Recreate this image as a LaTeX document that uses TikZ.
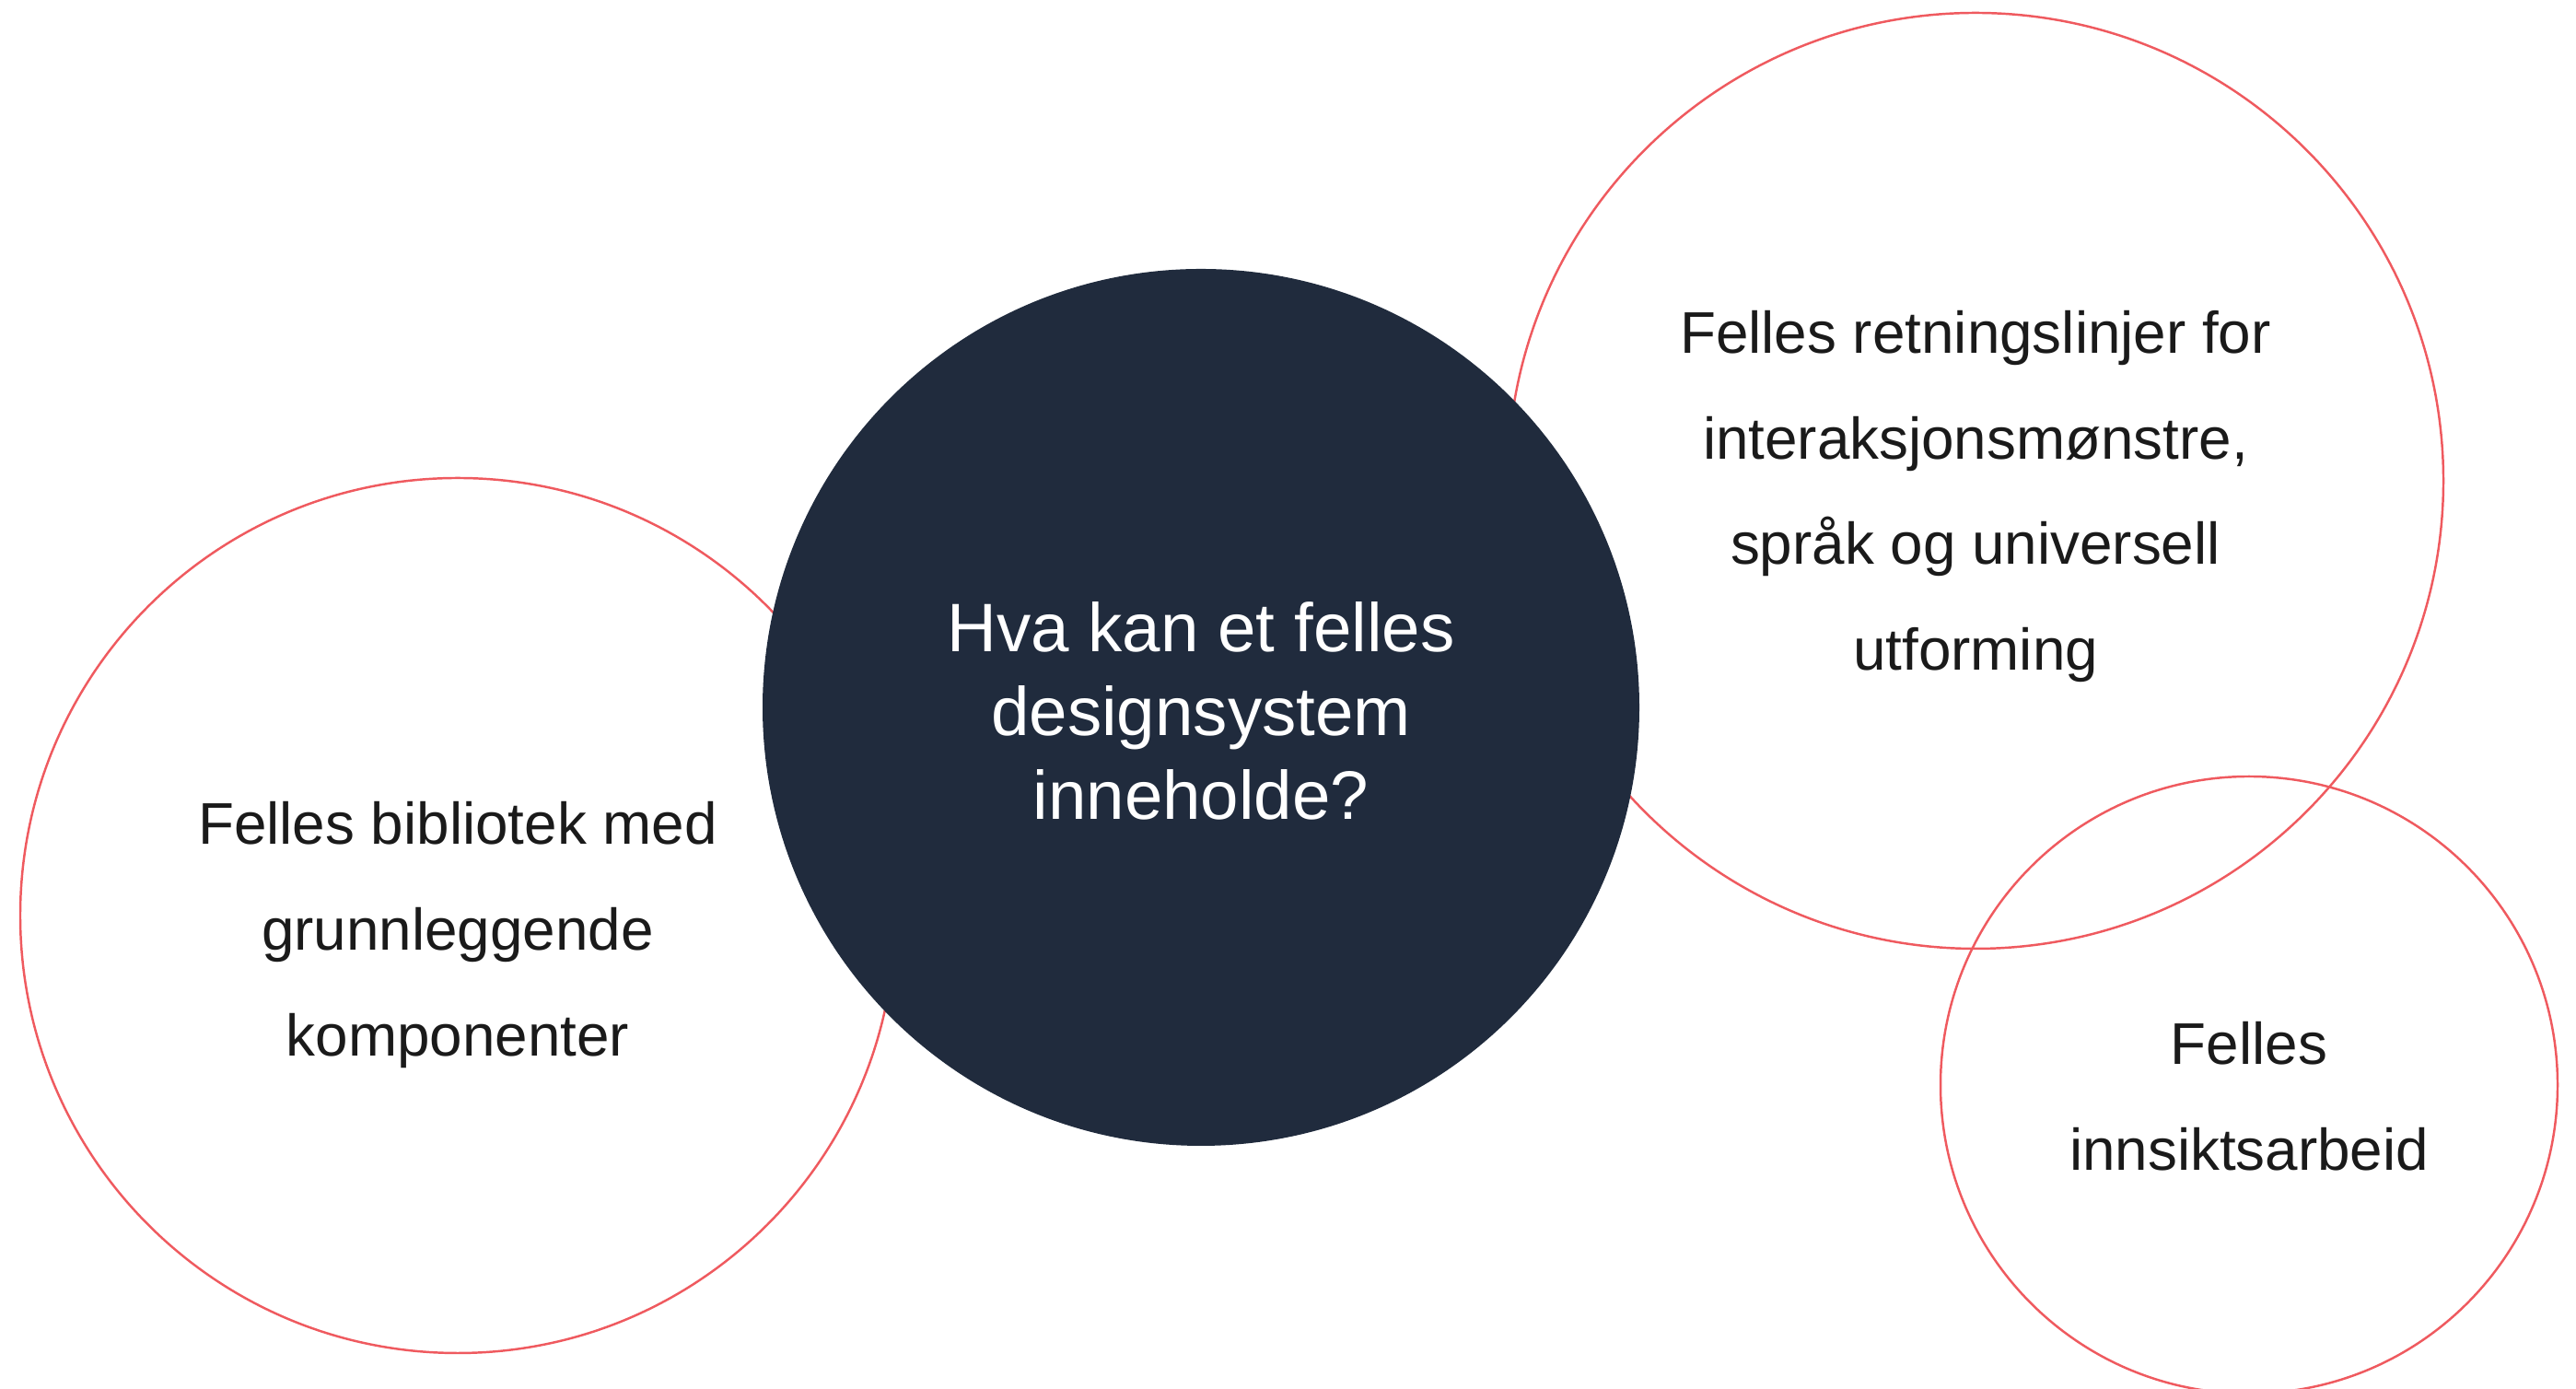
\documentclass[tikz,border=0pt]{standalone}
\usepackage{fontspec}
\setmainfont{Liberation Sans}
\usetikzlibrary{positioning}
\definecolor{navy}{HTML}{202B3D}
\definecolor{coral}{HTML}{EF5A5F}
\definecolor{ink}{HTML}{1A1A1A}

\begin{document}
\begin{tikzpicture}[
    ring/.style={circle, draw=coral, line width=0.7pt, inner sep=0pt},
    core/.style={circle, fill=navy, inner sep=0pt},
    bodytext/.style={text=ink, align=center, font=\fontsize{18.15}{32.6}\selectfont},
    coretext/.style={text=white, align=center, font=\fontsize{21.2}{25.9}\selectfont}]
        \useasboundingbox (0,0) rectangle (27.97,15.08);

        % Outlined circles
        \node[ring, minimum size=9.5cm] (bib) at (4.97,5.14) {};
        \node[ring, minimum size=10.16cm] (ret) at (21.45,9.86) {};
        \node[ring, minimum size=6.7cm] (inn) at (24.42,3.30) {};

        % Dark centre circle, on top
        \node[core, minimum size=9.52cm] (kjerne) at (13.04,7.40) {};

        % Texts
        \node[coretext] (kjernetxt) at ([yshift=-0.04cm]kjerne.center) {Hva kan et felles\\designsystem\\inneholde?};
        \node[bodytext] (bibtxt) at ([yshift=-0.21cm]bib.center) {Felles bibliotek med\\grunnleggende\\komponenter};
        \node[bodytext] (rettxt) at ([yshift=-0.17cm]ret.center) {Felles retningslinjer for\\interaksjonsmønstre,\\språk og universell\\utforming};
        \node[bodytext] (inntxt) at ([yshift=-0.12cm]inn.center) {Felles\\innsiktsarbeid};
    \end{tikzpicture}
\end{document}
